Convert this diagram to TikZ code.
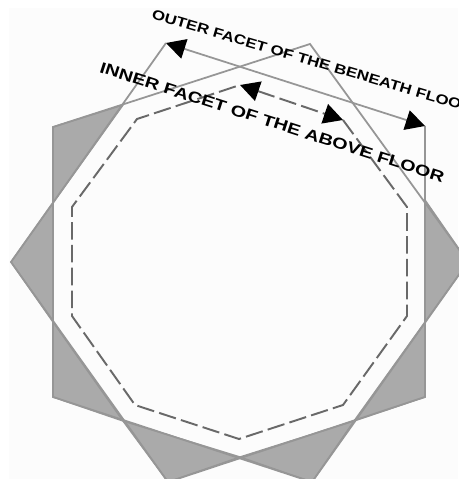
\documentclass[tikz,border=0pt]{standalone}
\usepackage{fontspec}
\setmainfont{Liberation Sans}
\usetikzlibrary{arrows.meta,calc}
\definecolor{paper}{RGB}{252,252,252}
\definecolor{tipgray}{RGB}{170,170,170}
\definecolor{edgegray}{RGB}{150,150,150}
\definecolor{dashgray}{RGB}{105,105,105}
\tikzset{
	floor/.style = {
		draw=edgegray,
		line width=1pt,
		line join=miter
	},
	tip/.style = {
		fill=tipgray,
		draw=edgegray,
		line width=0.8pt,
		line join=round
	},
	facet/.style = {
		draw=dashgray,
		line width=1.1pt,
		dash pattern=on 10pt off 3pt
	},
	measure/.style = {
		{Triangle[length=11pt,width=11.5pt,black]}-{Triangle[length=11pt,width=11.5pt,black]}
	},
	label/.style = {
		font=\bfseries,
		text=black,
		inner sep=0pt,
		transform shape
	}
}
\begin{document}
\begin{tikzpicture}[x=0.02cm, y=-0.02cm]
		\useasboundingbox (0,0) rectangle (458,479);
		\fill[white] (0,0) rectangle (458,479);
		\fill[paper] (9,8) rectangle (458,479);
		
		% --- Vertices of the beneath floor ---
		\coordinate (b1) at (166,43);
		\coordinate (b2) at (425,126);
		\coordinate (b3) at (425,397);
		\coordinate (b4) at (168,482);
		\coordinate (b5) at (11,262);
		
		% --- Vertices of the above floor ---
		\coordinate (a1) at (310,44);
		\coordinate (a2) at (468,262);
		\coordinate (a3) at (312,482);
		\coordinate (a4) at (53,397);
		\coordinate (a5) at (53,127);
		
		% Where the two outlines cross
		\coordinate (c1) at (240,67);
		\coordinate (c2) at (356,104);
		\coordinate (c3) at (425,200);
		\coordinate (c4) at (425,322);
		\coordinate (c5) at (354,421);
		\coordinate (c6) at (240,457);
		\coordinate (c7) at (123,421);
		\coordinate (c8) at (53,322);
		\coordinate (c9) at (53,203);
		\coordinate (c10) at (123,105);
		
		% Gray tips of the star
		\filldraw[tip] (c10) -- (a5) -- (c9) -- cycle;
		\filldraw[tip] (c9) -- (b5) -- (c8) -- cycle;
		\filldraw[tip] (c8) -- (a4) -- (c7) -- cycle;
		\filldraw[tip] (c7) -- (b4) -- (c6) -- cycle;
		\filldraw[tip] (c6) -- (a3) -- (c5) -- cycle;
		\filldraw[tip] (c5) -- (b3) -- (c4) -- cycle;
		\filldraw[tip] (c4) -- (a2) -- (c3) -- cycle;
		
		% The two pentagons, open at the arrow corners
		\draw[floor] (a1) -- (a2) -- (a3) -- (a4) -- (a5) -- cycle;
		\draw[floor] (b1) -- (b5) -- (b4) -- (b3) -- (b2);
		
		% Inner dashed outline
		\coordinate (d1) at (240,85);
		\coordinate (d2) at (343,120);
		\coordinate (d3) at (407,207);
		\coordinate (d4) at (407,316);
		\coordinate (d5) at (343,405);
		\coordinate (d6) at (239,439);
		\coordinate (d7) at (135,405);
		\coordinate (d8) at (72,316);
		\coordinate (d9) at (72,207);
		\coordinate (d10) at (137,119);
		\draw[facet] (d2) -- (d3) -- (d4) -- (d5) -- (d6) -- (d7) -- (d8) -- (d9) -- (d10) -- (d1);
		
		% --- Measures ---
		\draw[floor, measure] (b1) -- (b2);
		\draw[facet, measure] (d1) -- (d2);
		
		% --- Labels ---
		\node[label, font=\bfseries\fontsize{7.8}{9}\selectfont, rotate=-16.4, xscale=1.23, anchor=west] (outer) at (152,14) {OUTER FACET OF THE BENEATH FLOOR};
		\node[label, font=\bfseries\fontsize{8.8}{10}\selectfont, rotate=-17.8, xscale=1.28, anchor=west] (inner) at (100,67) {INNER FACET OF THE ABOVE FLOOR};
		
	\end{tikzpicture}
\end{document}
